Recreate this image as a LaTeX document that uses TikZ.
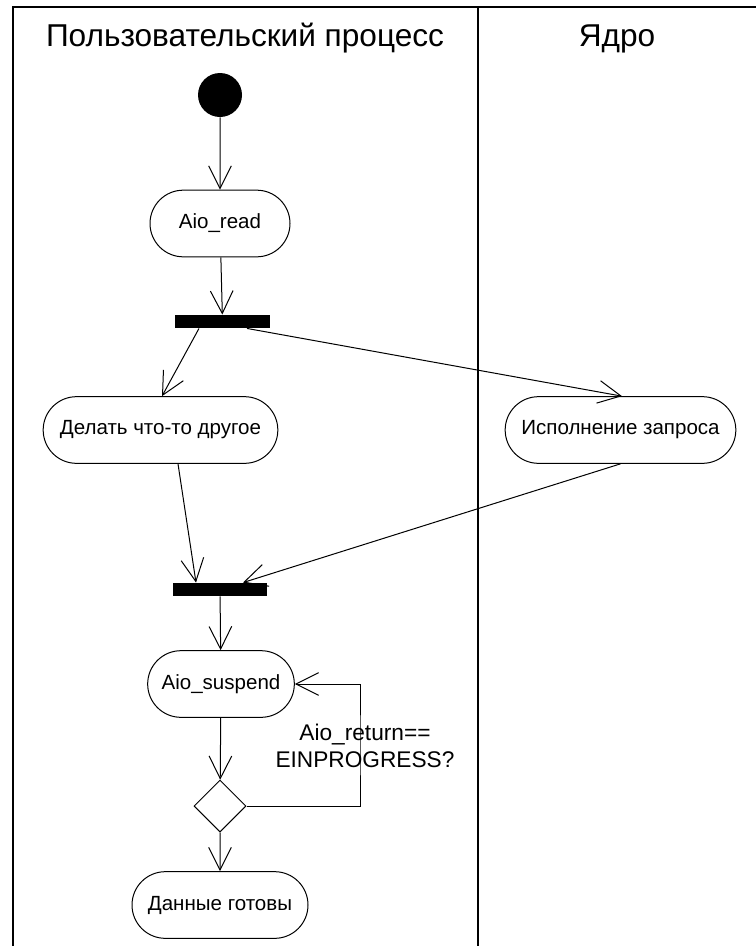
\documentclass[tikz,border=0pt]{standalone}
\usepackage{fontspec}
\setmainfont{Liberation Sans}
\usetikzlibrary{shapes.misc,shapes.geometric,arrows.meta,calc}
\tikzstyle{line} = [draw,line width=0.75pt,-{Straight Barb[length=17pt,width=17pt]}]
\tikzstyle{action} = [draw,line width=0.75pt,rounded rectangle,minimum height=50pt,inner sep=0pt,font=\fontsize{15.4}{18}\selectfont]
\tikzstyle{bar} = [fill=black,rectangle,minimum width=71pt,minimum height=10pt,inner sep=0pt]
\tikzstyle{lane} = [line width=1.5pt]

\begin{document}
\begin{tikzpicture}[x=0.75pt,y=-0.75pt]
    \useasboundingbox (0,0) rectangle (756,946);
    % swimlanes
    \draw[lane] (13,946) -- (13,6.5) -- (756,6.5);
    \draw[lane] (477.5,6.5) -- (477.5,946);
    \node[anchor=base,font=\fontsize{23.7}{28}\selectfont] (user) at (245,46) {Пользовательский процесс};
    \node[anchor=base,font=\fontsize{23.7}{28}\selectfont] (kern) at (617,46) {Ядро};
    % nodes
    \node[circle,fill=black,minimum size=33pt,inner sep=0pt] (start) at (220,95) {};
    \node[action,minimum width=105pt] (read) at (220,223.5) {Aio\_read};
    \node[bar] (bar1) at (222.5,321.5) {};
    \node[action,minimum width=176pt] (other) at (160.5,430) {Делать что-то другое};
    \node[action,minimum width=173pt] (exec) at (620.5,430) {Исполнение запроса};
    \node[bar] (bar2) at (220,589.5) {};
    \node[action,minimum width=110pt] (susp) at (221,684) {Aio\_suspend};
    \node[diamond,draw,line width=0.75pt,minimum size=39pt,inner sep=0pt] (dec) at (220,806) {};
    \node[action,minimum width=132pt] (data) at (220,905) {Данные готовы};
    \node[align=center,font=\fontsize{17}{20.2}\selectfont] (cond) at (365,745.5) {Aio\_return==\\EINPROGRESS?};
    \coordinate (loopr) at (360,745);
    % flows
    \draw[line] (start) -- (read);
    \draw[line] (read) -- (bar1);
    \draw[line] ($(bar1.south)+(-23.5,0)$) -- ($(other.north)+(1.5,0)$);
    \draw[line] ($(bar1.south)+(24.5,0)$) -- ($(exec.north)+(1.5,0)$);
    \draw[line] ($(other.south)+(17.5,0)$) -- ($(bar2.north)+(-24,0)$);
    \draw[line] (exec.south) -- ($(bar2.north)+(23,0)$);
    \draw[line] (bar2) -- (susp);
    \draw[line] (susp) -- (dec);
    \draw[line] (dec.east) -| (loopr) |- (susp.east);
    \draw[line] (dec) -- (data);
\end{tikzpicture}
\end{document}
